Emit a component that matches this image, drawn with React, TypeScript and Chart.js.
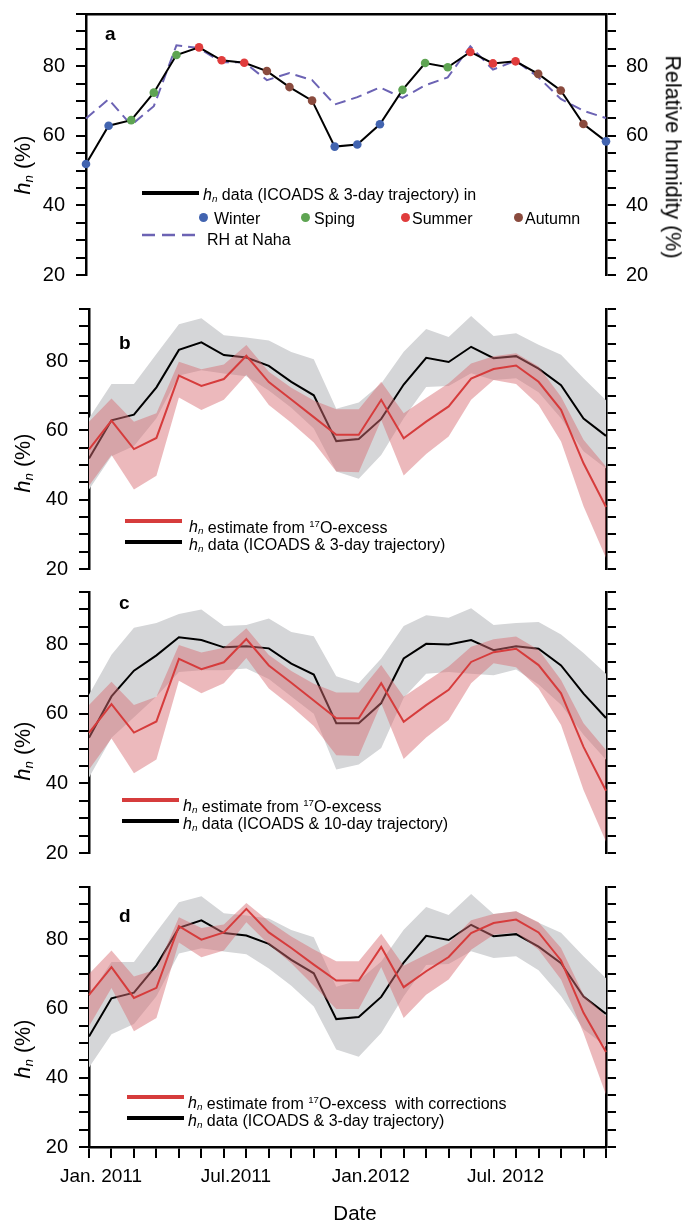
import React, { useEffect, useRef } from 'react';
import { Chart, registerables } from 'chart.js';

Chart.register(...registerables);

const FONT = '"Liberation Sans", Arial, Helvetica, sans-serif';
Chart.defaults.font.family = FONT;
Chart.defaults.color = '#000';

// ---------------- data ----------------
const months = [
  '2011-01', '2011-02', '2011-03', '2011-04', '2011-05', '2011-06',
  '2011-07', '2011-08', '2011-09', '2011-10', '2011-11', '2011-12',
  '2012-01', '2012-02', '2012-03', '2012-04', '2012-05', '2012-06',
  '2012-07', '2012-08', '2012-09', '2012-10', '2012-11', '2012-12',
];
const xTickLabels = [
  'Jan. 2011', '', '', '', '', '', 'Jul.2011', '', '', '', '', '',
  'Jan.2012', '', '', '', '', '', 'Jul. 2012', '', '', '', '', '',
];
const seasons = [
  'Winter', 'Winter', 'Spring', 'Spring', 'Spring', 'Summer',
  'Summer', 'Summer', 'Autumn', 'Autumn', 'Autumn', 'Winter',
  'Winter', 'Winter', 'Spring', 'Spring', 'Spring', 'Summer',
  'Summer', 'Summer', 'Autumn', 'Autumn', 'Autumn', 'Winter',
];
const seasonColors: Record<string, string> = {
  Winter: '#4264b0',
  Spring: '#5ea452',
  Summer: '#e03c3c',
  Autumn: '#8a4b3e',
};

// h_n data (ICOADS & 3-day trajectory)
const hn3day = [51.9, 62.9, 64.5, 72.4, 83.2, 85.4, 81.7, 81.0, 78.6, 74.0, 70.1, 56.9,
  57.5, 63.3, 73.2, 80.9, 79.7, 84.1, 80.8, 81.4, 77.8, 73.0, 63.4, 58.4];
const hn3dayUpper = [63.5, 73.4, 73.4, 82.0, 90.6, 92.3, 87.4, 86.8, 85.9, 82.6, 80.5, 66.2,
  68.0, 73.5, 82.7, 89.2, 86.9, 93.0, 87.2, 88.0, 84.7, 81.8, 75.0, 68.7];
const hn3dayLower = [42.9, 52.5, 55.5, 63.5, 75.8, 77.3, 76.4, 75.6, 71.5, 66.5, 60.5, 48.1,
  46.0, 52.9, 63.5, 72.5, 72.8, 76.5, 74.5, 75.0, 71.0, 63.5, 54.0, 49.0];

// RH at Naha
const rhNaha = [65.0, 70.5, 63.1, 68.5, 86.0, 85.2, 81.1, 81.1, 76.0, 78.0, 76.0, 69.0,
  71.1, 73.9, 70.9, 74.5, 76.8, 85.7, 79.0, 81.6, 76.9, 70.6, 67.2, 65.1];

// h_n estimate from 17O-excess
const est17O = [54.5, 62.8, 54.6, 57.8, 75.8, 72.8, 74.8, 81.5, 73.9, 68.9, 63.8, 58.7,
  58.7, 68.8, 57.7, 62.5, 66.9, 74.9, 77.7, 78.7, 74.0, 65.9, 50.5, 37.9];
const est17OUpper = [62.5, 69.2, 62.5, 64.9, 79.8, 77.6, 79.0, 84.6, 76.9, 72.3, 68.6, 66.1,
  66.1, 74.0, 64.9, 69.3, 73.6, 79.3, 81.4, 82.2, 78.4, 69.7, 57.3, 49.6];
const est17OLower = [44.0, 52.9, 42.9, 46.9, 69.5, 65.9, 68.8, 76.0, 67.3, 62.2, 56.5, 48.1,
  47.9, 63.0, 47.0, 53.2, 58.2, 68.8, 74.5, 73.4, 67.3, 56.8, 38.1, 23.2];

// h_n data (ICOADS & 10-day trajectory)
const hn10day = [53.1, 65.0, 72.4, 76.8, 82.0, 81.2, 79.1, 79.4, 78.8, 74.4, 71.3, 57.3,
  57.3, 63.1, 75.9, 80.1, 79.9, 81.2, 78.3, 79.4, 78.7, 73.9, 65.8, 58.8];
const hn10dayUpper = [65.5, 77.0, 84.7, 86.1, 88.7, 90.0, 85.2, 85.5, 87.4, 83.5, 82.3, 70.8,
  68.8, 75.9, 85.2, 88.3, 87.6, 90.3, 85.5, 86.1, 86.4, 82.8, 77.5, 71.5];
const hn10dayLower = [41.7, 53.1, 59.0, 65.0, 72.0, 72.5, 72.5, 73.0, 70.0, 65.0, 60.0, 44.0,
  45.4, 50.2, 64.6, 71.5, 72.0, 71.5, 71.1, 72.7, 68.4, 62.6, 54.0, 46.8];

// h_n estimate from 17O-excess with corrections
const estCorr = [63.9, 71.9, 63.0, 65.9, 83.7, 79.8, 81.9, 88.7, 81.9, 77.4, 72.6, 68.0,
  68.0, 77.7, 66.1, 70.7, 74.8, 81.7, 84.6, 85.6, 81.9, 73.8, 58.7, 47.4];
const estCorrUpper = [69.9, 76.7, 69.2, 71.2, 86.3, 83.2, 84.2, 90.4, 85.1, 80.7, 77.0, 73.6,
  73.6, 81.5, 72.3, 75.5, 78.8, 85.4, 87.2, 88.0, 84.8, 77.4, 63.9, 57.7];
const estCorrLower = [54.8, 65.9, 53.4, 57.2, 79.0, 74.7, 76.7, 84.8, 78.4, 73.0, 66.5, 59.8,
  59.8, 71.9, 57.2, 63.9, 68.3, 76.9, 81.2, 81.9, 76.9, 68.3, 52.9, 35.1];

// ---------------- styles ----------------
const BLACK = '#000000';
const RED = '#d63c3c';
const RED_BAND = 'rgba(216,108,116,0.48)';
const GRAY_BAND = 'rgb(213,214,216)';
const RH_COLOR = '#6c63b4';
const PAD = 30; // vertical layout padding (canvas extends beyond plot area)

const yAxis = (position: 'left' | 'right', width: number, labels: boolean) => ({
  type: 'linear',
  position,
  min: 20,
  max: 95,
  afterFit: (s: any) => { s.width = width; },
  border: { display: true, color: '#000', width: 2.5 },
  grid: { display: true, drawOnChartArea: false, drawTicks: true, tickLength: 10, color: '#000', lineWidth: 2 },
  ticks: {
    stepSize: 5,
    autoSkip: false,
    padding: position === 'left' ? 11 : 10,
    color: '#000',
    font: { size: 20, family: FONT },
    callback: (v: any) => (labels && Number(v) % 20 === 0 ? String(v) : ''),
  },
});

const lineDs = (label: string, data: number[], color: string, extra: any = {}) => ({
  label, data, borderColor: color, borderWidth: 2, pointRadius: 0, tension: 0, fill: false, clip: false, ...extra,
});
const bandUpper = (label: string, data: number[], color: string) => ({
  label, data, borderColor: 'transparent', borderWidth: 0, pointRadius: 0, tension: 0,
  backgroundColor: color, fill: '+1', clip: false,
});
const bandLower = (label: string, data: number[]) => ({
  label, data, borderColor: 'transparent', borderWidth: 0, pointRadius: 0, tension: 0, fill: false, clip: false,
});

const baseOptions = (padding: any, scales: any) => ({
  responsive: false,
  maintainAspectRatio: false,
  animation: false,
  devicePixelRatio: 1,
  events: [],
  layout: { padding },
  plugins: { legend: { display: false }, tooltip: { enabled: false }, title: { display: false } },
  scales,
});

const xHidden = { type: 'category', display: false, offset: false };

const configA = () => ({
  type: 'line',
  data: {
    labels: months,
    datasets: [
      lineDs('h_n data (ICOADS & 3-day trajectory)', hn3day, BLACK, {
        pointRadius: 4.3,
        pointBackgroundColor: seasons.map((s) => seasonColors[s]),
        pointBorderColor: seasons.map((s) => seasonColors[s]),
        pointBorderWidth: 0,
        yAxisID: 'y',
      }),
      lineDs('RH at Naha', rhNaha, RH_COLOR, { borderDash: [11, 6], yAxisID: 'yR' }),
    ],
  },
  options: baseOptions({ top: PAD, bottom: PAD, left: 0, right: 0 }, {
    x: {
      type: 'category',
      position: 'top',
      offset: false,
      afterFit: (s: any) => { s.height = 0; },
      border: { display: true, color: '#000', width: 2.5 },
      grid: { display: false, drawTicks: false },
      ticks: { display: false },
    },
    y: yAxis('left', 86, true),
    yR: yAxis('right', 88, true),
  }),
});

const bandConfig = (
  est: number[], estU: number[], estL: number[],
  obs: number[], obsU: number[], obsL: number[],
  padding: any, leftW: number, xAxis: any,
) => ({
  type: 'line',
  data: {
    labels: months,
    datasets: [
      lineDs('h_n estimate', est, RED),
      bandUpper('estimate upper', estU, RED_BAND),
      bandLower('estimate lower', estL),
      lineDs('h_n data', obs, BLACK),
      bandUpper('data upper', obsU, GRAY_BAND),
      bandLower('data lower', obsL),
    ],
  },
  options: baseOptions(padding, {
    x: xAxis,
    y: yAxis('left', leftW, true),
    yR: yAxis('right', 88, false),
  }),
});

const X_AXIS_H = 77;

const configB = () => bandConfig(est17O, est17OUpper, est17OLower, hn3day, hn3dayUpper, hn3dayLower,
  { top: PAD, bottom: PAD, left: 0, right: 0 }, 89, xHidden);
const configC = () => bandConfig(est17O, est17OUpper, est17OLower, hn10day, hn10dayUpper, hn10dayLower,
  { top: PAD, bottom: PAD, left: 0, right: 0 }, 89, xHidden);
const configD = () => bandConfig(estCorr, estCorrUpper, estCorrLower, hn3day, hn3dayUpper, hn3dayLower,
  { top: PAD, bottom: 0, left: 0, right: 0 }, 89, {
    type: 'category',
    position: 'bottom',
    offset: false,
    afterFit: (s: any) => { s.height = X_AXIS_H; },
    border: { display: true, color: '#000', width: 2.5 },
    grid: { display: true, offset: false, drawOnChartArea: false, drawTicks: true, tickLength: 11, color: '#000', lineWidth: 2 },
    ticks: {
      autoSkip: false,
      maxRotation: 0,
      minRotation: 0,
      padding: 7,
      labelOffset: 12,
      color: '#000',
      font: { size: 19, family: FONT },
      callback: (_v: any, i: number) => xTickLabels[i],
    },
  });

// ---------------- components ----------------
function ChartCanvas({ plotTop, plotBottom, extraBottom = PAD, make }:
  { plotTop: number; plotBottom: number; extraBottom?: number; make: () => any }) {
  const ref = useRef<HTMLCanvasElement | null>(null);
  const top = plotTop - PAD;
  const height = plotBottom - plotTop + PAD + extraBottom;
  useEffect(() => {
    const chart = new Chart(ref.current as HTMLCanvasElement, make() as any);
    return () => chart.destroy();
  }, []);
  return (
    <canvas
      ref={ref}
      width={694}
      height={height}
      style={{ position: 'absolute', left: 0, top, width: 694, height }}
    />
  );
}

const Hn = ({ sub = 0.62 }: { sub?: number }) => (
  <span style={{ fontStyle: 'italic' }}>
    h<span style={{ fontSize: `${sub}em`, verticalAlign: '-0.25em' }}>n</span>
  </span>
);

function Txt({ x, y, size = 16, bold = false, children }: any) {
  const lh = Math.round(size * 1.2);
  return (
    <div
      style={{
        position: 'absolute', left: x, top: y - lh / 2, fontSize: size, lineHeight: `${lh}px`,
        fontFamily: FONT, fontWeight: bold ? 'bold' : 'normal', whiteSpace: 'nowrap', color: '#000',
      }}
    >
      {children}
    </div>
  );
}

function RotTxt({ x, y, size = 21.5, deg, children }: any) {
  return (
    <div
      style={{
        position: 'absolute', left: x, top: y, fontSize: size, lineHeight: 1, fontFamily: FONT,
        whiteSpace: 'nowrap', color: '#000', transform: `translate(-50%, -50%) rotate(${deg}deg)`,
      }}
    >
      {children}
    </div>
  );
}

const Swatch = ({ x, y, w = 57, color }: any) => (
  <div style={{ position: 'absolute', left: x, top: y - 1.75, width: w, height: 3.5, background: color }} />
);

const Dot = ({ x, y, color }: any) => (
  <div style={{ position: 'absolute', left: x - 4.5, top: y - 4.5, width: 9, height: 9, borderRadius: '50%', background: color }} />
);

const DashSwatch = ({ x, y, w = 57, color }: any) => (
  <svg style={{ position: 'absolute', left: x, top: y - 3 }} width={w} height={6}>
    <line x1={0} y1={3} x2={w} y2={3} stroke={color} strokeWidth={2.5} strokeDasharray="13 7" />
  </svg>
);

const Sup17 = () => <sup style={{ fontSize: '0.6em', verticalAlign: '0.6em' }}>17</sup>;

export default function App() {
  return (
    <div style={{ position: 'absolute', left: 0, top: 0, width: 694, height: 1224, background: '#fff', overflow: 'hidden' }}>
      <ChartCanvas plotTop={14} plotBottom={275} make={configA} />
      <ChartCanvas plotTop={309} plotBottom={569} make={configB} />
      <ChartCanvas plotTop={592} plotBottom={853} make={configC} />
      <ChartCanvas plotTop={887} plotBottom={1147} extraBottom={X_AXIS_H} make={configD} />

      {/* panel letters */}
      <Txt x={105} y={33} size={19} bold>a</Txt>
      <Txt x={119} y={342} size={19} bold>b</Txt>
      <Txt x={119} y={602} size={19} bold>c</Txt>
      <Txt x={119} y={915} size={19} bold>d</Txt>

      {/* axis titles */}
      <RotTxt x={24} y={165} deg={-90}><Hn /> (%)</RotTxt>
      <RotTxt x={24} y={463} deg={-90}><Hn /> (%)</RotTxt>
      <RotTxt x={24} y={751} deg={-90}><Hn /> (%)</RotTxt>
      <RotTxt x={24} y={1049} deg={-90}><Hn /> (%)</RotTxt>
      <RotTxt x={672} y={157} deg={90}>Relative humidity (%)</RotTxt>
      <RotTxt x={355} y={1213} size={20.5} deg={0}>Date</RotTxt>

      {/* legend a */}
      <Swatch x={142} y={193} color={BLACK} />
      <Txt x={203} y={194}><Hn /> data (ICOADS &amp; 3-day trajectory) in</Txt>
      <Dot x={203} y={217} color={seasonColors.Winter} />
      <Txt x={214} y={218}>Winter</Txt>
      <Dot x={305} y={217} color={seasonColors.Spring} />
      <Txt x={314} y={218}>Sping</Txt>
      <Dot x={405} y={217} color={seasonColors.Summer} />
      <Txt x={412} y={218}>Summer</Txt>
      <Dot x={518} y={217} color={seasonColors.Autumn} />
      <Txt x={525} y={218}>Autumn</Txt>
      <DashSwatch x={142} y={235} color={RH_COLOR} />
      <Txt x={207} y={239}>RH at Naha</Txt>

      {/* legend b */}
      <Swatch x={125} y={521} color={RED} />
      <Txt x={189} y={523}><Hn /> estimate from <Sup17 />O-excess</Txt>
      <Swatch x={125} y={542} color={BLACK} />
      <Txt x={189} y={544}><Hn /> data (ICOADS &amp; 3-day trajectory)</Txt>

      {/* legend c */}
      <Swatch x={122} y={800} color={RED} />
      <Txt x={183} y={802}><Hn /> estimate from <Sup17 />O-excess</Txt>
      <Swatch x={122} y={821} color={BLACK} />
      <Txt x={183} y={823}><Hn /> data (ICOADS &amp; 10-day trajectory)</Txt>

      {/* legend d */}
      <Swatch x={127} y={1097} color={RED} />
      <Txt x={188} y={1099}><Hn /> estimate from <Sup17 />O-excess&nbsp; with corrections</Txt>
      <Swatch x={127} y={1118} color={BLACK} />
      <Txt x={188} y={1120}><Hn /> data (ICOADS &amp; 3-day trajectory)</Txt>
    </div>
  );
}
